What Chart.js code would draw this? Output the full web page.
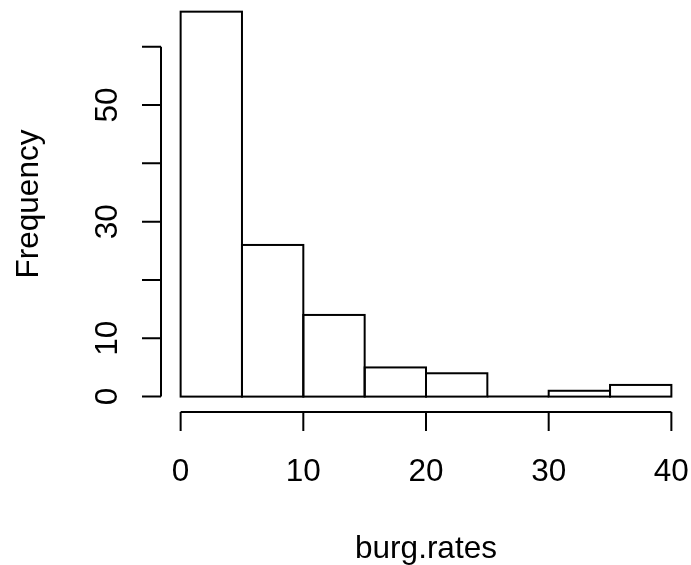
<!DOCTYPE html>
<html>
<head>
<meta charset="utf-8">
<title>Histogram of burg.rates</title>
<script src="https://cdn.jsdelivr.net/npm/chart.js@4/dist/chart.umd.min.js"></script>
<style>
  html, body { margin: 0; padding: 0; background: #fff; }
  canvas { display: block; }
</style>
</head>
<body>
<canvas id="hist" width="691" height="565"></canvas>
<script>
// ===== Data =====
const breaks = [0, 5, 10, 15, 20, 25, 30, 35, 40];
const counts = [66, 26, 14, 5, 4, 0, 1, 2];
const xTicks = [0, 10, 20, 30, 40];
const yTicks = [0, 10, 20, 30, 40, 50, 60];
const yTickLabels = ['0', '10', '', '30', '', '50', ''];
const xTitle = 'burg.rates';
const yTitle = 'Frequency';

const FONT = '31.5px "Liberation Sans", Arial, Helvetica, sans-serif';

// ===== Outline every bar (R style: stroke centred on the edges, zero bars become a line) =====
const barOutline = {
    id: 'barOutline',
    afterDatasetsDraw(chart){
        const ctx = chart.ctx;
        const meta = chart.getDatasetMeta(0);
        ctx.save();
        ctx.strokeStyle = '#000';
        ctx.lineWidth = 2;
        meta.data.forEach(function(bar){
            const p = bar.getProps(['x','y','base','width'], true);
            ctx.strokeRect(p.x - p.width/2, p.y, p.width, p.base - p.y);
        });
        ctx.restore();
    }
};

// ===== R style axes and titles =====
const rAxes = {
    id: 'rAxes',
    afterDraw(chart){
        const ctx = chart.ctx;
        const xs = chart.scales.x, ys = chart.scales.y;
        const area = chart.chartArea;
        ctx.save();
        ctx.strokeStyle = '#000';
        ctx.fillStyle = '#000';
        ctx.lineWidth = 2;
        ctx.font = FONT;

        // x axis
        const xAxisY = area.bottom;
        ctx.beginPath();
        ctx.moveTo(xs.getPixelForValue(xTicks[0]), xAxisY);
        ctx.lineTo(xs.getPixelForValue(xTicks[xTicks.length-1]), xAxisY);
        xTicks.forEach(function(t){
            const px = xs.getPixelForValue(t);
            ctx.moveTo(px, xAxisY);
            ctx.lineTo(px, xAxisY + 19);
        });
        ctx.stroke();
        ctx.textAlign = 'center';
        ctx.textBaseline = 'alphabetic';
        xTicks.forEach(function(t){
            ctx.fillText(String(t), xs.getPixelForValue(t), 481);
        });

        // y axis
        const yAxisX = area.left;
        ctx.beginPath();
        ctx.moveTo(yAxisX, ys.getPixelForValue(yTicks[0]));
        ctx.lineTo(yAxisX, ys.getPixelForValue(yTicks[yTicks.length-1]));
        yTicks.forEach(function(t){
            const py = ys.getPixelForValue(t);
            ctx.moveTo(yAxisX, py);
            ctx.lineTo(yAxisX - 19, py);
        });
        ctx.stroke();
        yTicks.forEach(function(t, i){
            if(!yTickLabels[i]) return;
            ctx.save();
            ctx.translate(116.5, ys.getPixelForValue(t));
            ctx.rotate(-Math.PI/2);
            ctx.fillText(yTickLabels[i], 0, 0);
            ctx.restore();
        });

        // titles
        ctx.fillText(xTitle, (area.left + area.right)/2, 558);
        ctx.save();
        ctx.translate(38, 204);
        ctx.rotate(-Math.PI/2);
        ctx.fillText(yTitle, 0, 0);
        ctx.restore();
        ctx.restore();
    }
};

// ===== Chart =====
const barData = counts.map(function(c, i){
    return { x: (breaks[i] + breaks[i+1]) / 2, y: c };
});

new Chart(document.getElementById('hist').getContext('2d'), {
    type: 'bar',
    data: {
        datasets: [{
            label: yTitle,
            data: barData,
            backgroundColor: '#fff',
            borderWidth: 0,
            barPercentage: 1,
            categoryPercentage: 1
        }]
    },
    options: {
        responsive: false,
        animation: false,
        devicePixelRatio: 1,
        layout: { padding: { left: 161, right: 0, top: 0, bottom: 153 } },
        plugins: { legend: { display: false }, tooltip: { enabled: false } },
        scales: {
            x: { type: 'linear', min: -1.6, max: 41.6, offset: false, display: false },
            y: { min: -2.64, max: 68, display: false }
        }
    },
    plugins: [barOutline, rAxes]
});
</script>
</body>
</html>
